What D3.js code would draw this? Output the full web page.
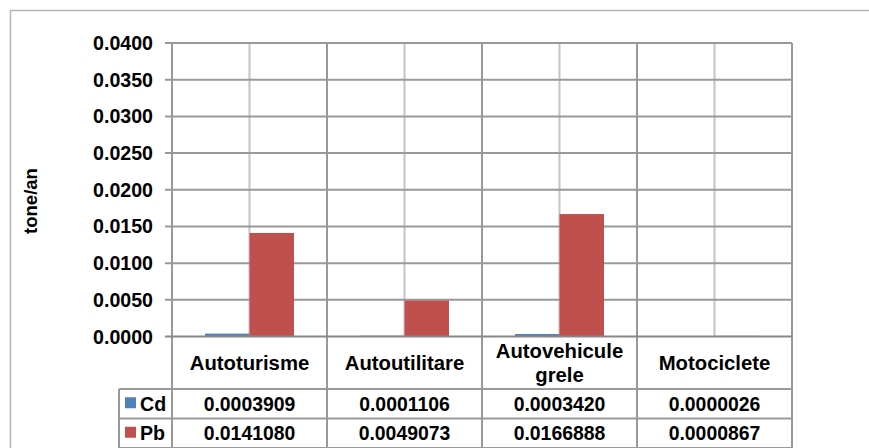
<!DOCTYPE html>
<html>
<head>
<meta charset="utf-8">
<script src="https://cdn.jsdelivr.net/npm/d3@7/dist/d3.min.js"></script>
<style>
  html, body { margin: 0; padding: 0; background: #fff; }
  svg { display: block; }
  text { font-family: "Liberation Sans", Arial, sans-serif; font-weight: bold; fill: #000; }
</style>
</head>
<body>
<svg id="chart" width="869" height="448"></svg>
<script>
// ---- data ----
const categories = ["Autoturisme", "Autoutilitare", "Autovehicule grele", "Motociclete"];
const seriesNames = ["Cd", "Pb"];
const cdValues = [0.0003909, 0.0001106, 0.0003420, 0.0000026];
const pbValues = [0.0141080, 0.0049073, 0.0166888, 0.0000867];
const yTicks = [0, 0.005, 0.01, 0.015, 0.02, 0.025, 0.03, 0.035, 0.04];
const yLabel = "tone/an";
const seriesColors = ["#4F81BD", "#C0504D"];

const seriesValues = [cdValues, pbValues];

const svg = d3.select("#chart");
const W = 869, H = 448;

// layout
const plotL = 172, plotR = 792, plotT = 43, plotB = 336.5;
const tableL = 119;
const catRowB = 389, cdRowB = 418.5, pbRowB = 448;

const x = d3.scaleBand().domain(categories).range([plotL, plotR]).paddingInner(0).paddingOuter(0);
const xs = d3.scaleBand().domain(seriesNames).range([33, 122]).padding(0);
const y = d3.scaleLinear().domain([0, 0.04]).range([plotB, plotT]);

// outer chart border
svg.append("rect")
  .attr("x", 10.5).attr("y", 10.5)
  .attr("width", W + 20).attr("height", H + 20)
  .attr("fill", "none").attr("stroke", "#b4b4b4").attr("stroke-width", 1.5);

// center vertical gridlines (lighter)
svg.append("g").selectAll("line").data(categories).join("line")
  .attr("x1", d => x(d) + x.bandwidth() / 2).attr("x2", d => x(d) + x.bandwidth() / 2)
  .attr("y1", plotT).attr("y2", plotB)
  .attr("stroke", "#c4c4c4").attr("stroke-width", 2);

// horizontal gridlines + tick marks
svg.append("g").selectAll("line").data(yTicks.filter(t => t > 0)).join("line")
  .attr("x1", plotL - 7).attr("x2", plotR)
  .attr("y1", d => y(d)).attr("y2", d => y(d))
  .attr("stroke", "#999").attr("stroke-width", 2);

// bars
const barG = svg.append("g");
seriesNames.forEach((s, si) => {
  barG.append("g").selectAll("rect").data(categories).join("rect")
    .attr("x", d => x(d) + xs(s))
    .attr("width", xs.bandwidth())
    .attr("y", (d, i) => y(seriesValues[si][i]))
    .attr("height", (d, i) => y(0) - y(seriesValues[si][i]))
    .attr("fill", seriesColors[si]);
});

// category boundary vertical lines (plot + table)
const bounds = categories.map(c => x(c)).concat([plotR]);
svg.append("g").selectAll("line").data(bounds).join("line")
  .attr("x1", d => d).attr("x2", d => d)
  .attr("y1", plotT).attr("y2", pbRowB)
  .attr("stroke", "#999").attr("stroke-width", 2);

// x axis line
svg.append("line")
  .attr("x1", plotL - 7).attr("x2", plotR)
  .attr("y1", y(0)).attr("y2", y(0))
  .attr("stroke", "#888").attr("stroke-width", 2);

// table lines
svg.append("line").attr("x1", tableL).attr("x2", tableL).attr("y1", catRowB).attr("y2", pbRowB)
  .attr("stroke", "#999").attr("stroke-width", 2);
[catRowB, cdRowB, pbRowB].forEach(yy => {
  svg.append("line").attr("x1", tableL).attr("x2", plotR).attr("y1", yy).attr("y2", yy)
    .attr("stroke", "#999").attr("stroke-width", 2);
});

// y tick labels
svg.append("g").selectAll("text").data(yTicks).join("text")
  .attr("x", 153).attr("y", d => y(d)).attr("dy", "0.36em")
  .attr("text-anchor", "end").style("font-size", "19.6px")
  .text(d => d3.format(".4f")(d));

// y axis title
svg.append("text")
  .attr("transform", "translate(37,201) rotate(-90)")
  .attr("text-anchor", "middle").style("font-size", "18.5px")
  .text(yLabel);

// category labels (wrap multi-word labels)
const catRowMid = (plotB + catRowB) / 2;
categories.forEach(c => {
  const words = c.split(" ");
  const lh = 24.4;
  const t = svg.append("text").attr("text-anchor", "middle").style("font-size", "20.3px");
  words.forEach((w, i) => {
    t.append("tspan")
      .attr("x", x(c) + x.bandwidth() / 2)
      .attr("y", catRowMid + (i - (words.length - 1) / 2) * lh)
      .attr("dy", "0.36em")
      .text(w);
  });
});

// legend keys + values in table
const rowMids = [(catRowB + cdRowB) / 2, (cdRowB + pbRowB) / 2];
seriesNames.forEach((s, si) => {
  const ym = rowMids[si];
  svg.append("rect").attr("x", 125).attr("y", ym - 6.5).attr("width", 11).attr("height", 11)
    .attr("fill", seriesColors[si]);
  svg.append("text").attr("x", 140).attr("y", ym).attr("dy", "0.36em")
    .style("font-size", "19.6px").text(s);
  svg.append("g").selectAll("text").data(categories).join("text")
    .attr("x", d => x(d) + x.bandwidth() / 2)
    .attr("y", ym).attr("dy", "0.36em")
    .attr("text-anchor", "middle").style("font-size", "19.4px")
    .text((d, i) => seriesValues[si][i].toFixed(7));
});
</script>
</body>
</html>
